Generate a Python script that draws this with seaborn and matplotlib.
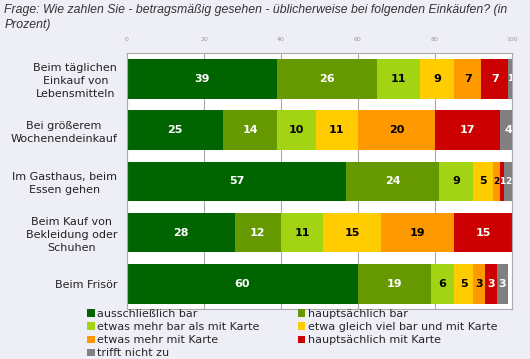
import numpy as np
import pandas as pd
import matplotlib
matplotlib.use('Agg')
import matplotlib.pyplot as plt
import seaborn as sns
from matplotlib.patches import Patch

# ------------- Daten ---------------------
kategorien = ['Beim täglichen\nEinkauf von\nLebensmitteln',
              'Bei größerem\nWochenendeinkauf',
              'Im Gasthaus, beim\nEssen gehen',
              'Beim Kauf von\nBekleidung oder\nSchuhen',
              'Beim Frisör']

serien = ['ausschließlich bar', 'hauptsächlich bar',
          'etwas mehr bar als mit Karte', 'etwa gleich viel bar und mit Karte',
          'etwas mehr mit Karte', 'hauptsächlich mit Karte', 'trifft nicht zu']

ausschl_bar = [39, 25, 57, 28, 60]
haupt_bar = [26, 14, 24, 12, 19]
mehr_bar = [11, 10, 9, 11, 6]
gleich_viel = [9, 11, 5, 15, 5]
mehr_karte = [7, 20, 2, 19, 3]
haupt_karte = [7, 17, 1, 15, 3]
trifft_nicht = [1, 4, 2, 0, 3]

farben = ['#006400', '#669900', '#A3D414', '#FFCC00', '#FF9900', '#CC0000', '#808080']
textfarben = ['white', 'white', 'black', 'black', 'black', 'white', 'white']

werte = np.array([ausschl_bar, haupt_bar, mehr_bar, gleich_viel,
                  mehr_karte, haupt_karte, trifft_nicht], dtype=float)
kumuliert = werte.cumsum(axis=0)

sns.set_style('white')
bg = '#EEEEF7'
fig = plt.figure(figsize=(5.3, 3.59), dpi=100, facecolor=bg)
ax = fig.add_axes([0.2396, 0.138, 0.7264, 0.714])
ax.set_facecolor('white')

# gestapelte Balken: von hinten (größte Summe) nach vorne zeichnen
for i in reversed(range(len(serien))):
    df = pd.DataFrame({'wert': kumuliert[i], 'kat': kategorien})
    sns.barplot(data=df, x='wert', y='kat', orient='h', color=farben[i],
                saturation=1, width=0.77, linewidth=0, ax=ax)

# Beschriftung der Segmente
for i in range(len(serien)):
    for j in range(len(kategorien)):
        v = werte[i, j]
        if v <= 0:
            continue
        ax.text(kumuliert[i, j] - v / 2, j, f'{int(v)}', ha='center', va='center',
                color=textfarben[i], fontsize=8 if v > 2 else 6.5, fontweight='bold',
                clip_on=True)

ax.set_xlim(0, 100)
ax.set_ylim(4.5, -0.5)
ax.set_xlabel('')
ax.set_ylabel('')
ax.xaxis.tick_top()
ax.set_xticks([0, 20, 40, 60, 80, 100])
ax.tick_params(axis='x', length=0, labelsize=4.5, labelcolor='#999999', pad=8)
ax.grid(axis='x', color='#AAAAAA', linewidth=0.8)
ax.set_axisbelow(True)
ax.tick_params(axis='y', length=3, color='#AAAAAA', labelsize=8, pad=4)
for lbl in ax.get_yticklabels():
    lbl.set_multialignment('center')
    lbl.set_linespacing(1.35)
    lbl.set_color('#222222')
for s in ax.spines.values():
    s.set_color('#AAAAAA')
    s.set_linewidth(0.8)

fig.text(0.008, 0.988,
         'Frage: Wie zahlen Sie - betragsmäßig gesehen - üblicherweise bei folgenden Einkäufen? (in\nProzent)',
         ha='left', va='top', fontsize=8.8, style='italic', family='Liberation Sans',
         color='#333333', linespacing=1.3)

# Legende zeilenweise
handles = [Patch(facecolor=f, edgecolor='none') for f in farben]
order = [0, 2, 4, 6, 1, 3, 5]
fig.legend([handles[k] for k in order], [serien[k] for k in order],
           loc='upper left', bbox_to_anchor=(0.164, 0.139), ncol=2, frameon=False,
           fontsize=8, handlelength=0.7, handleheight=0.7, handletextpad=0.25,
           labelspacing=0.28, columnspacing=3.4, borderpad=0, borderaxespad=0)

plt.savefig('out.png', dpi=100, facecolor=bg)
